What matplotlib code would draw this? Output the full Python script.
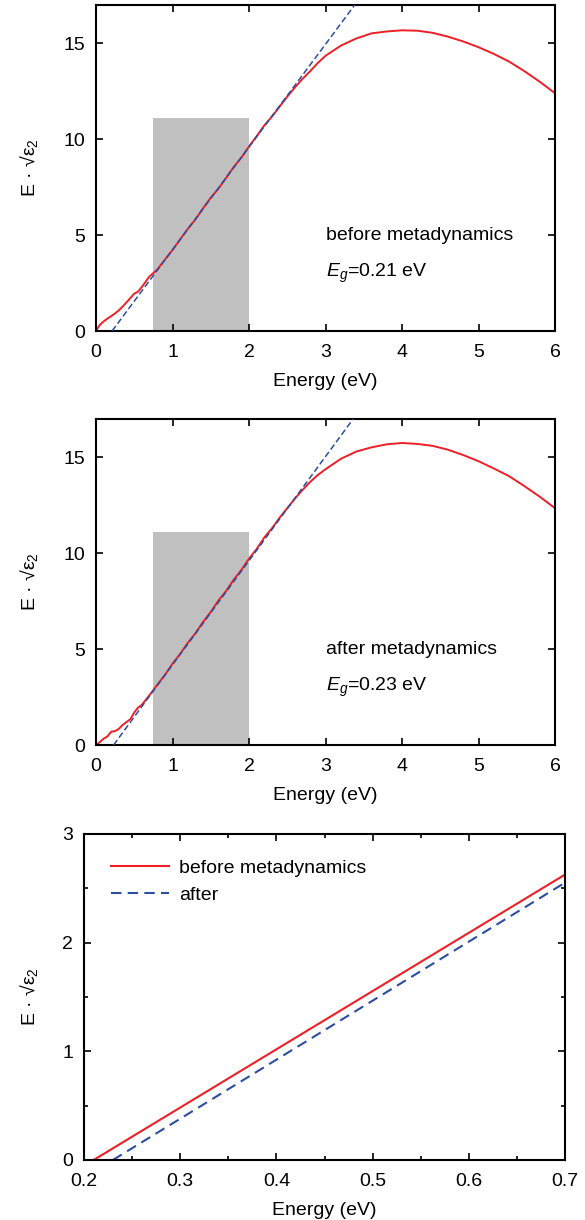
import numpy as np
import matplotlib
matplotlib.use("Agg")
import matplotlib.pyplot as plt
from matplotlib.ticker import MultipleLocator

plt.rcParams['font.family'] = ['Liberation Sans', 'DejaVu Sans']
plt.rcParams['mathtext.fontset'] = 'custom'
plt.rcParams['mathtext.rm'] = 'Liberation Sans'
plt.rcParams['mathtext.it'] = 'Liberation Sans:italic'

# spectra: E * sqrt(eps2) vs photon energy
energia = [0.0, 0.05, 0.1, 0.15, 0.2, 0.25, 0.3, 0.35, 0.4, 0.45, 0.5, 0.55, 0.6, 0.7,
           0.8, 0.9, 1.0, 1.1, 1.2, 1.3, 1.4, 1.5, 1.6, 1.7, 1.8, 1.9, 2.0, 2.1, 2.2,
           2.3, 2.4, 2.5, 2.6, 2.7, 2.8, 2.9, 3.0, 3.2, 3.4, 3.6, 3.8, 4.0, 4.2, 4.4,
           4.6, 4.8, 5.0, 5.2, 5.4, 5.6, 5.8, 6.0]
antes = [0.0, 0.32, 0.5, 0.65, 0.78, 0.92, 1.08, 1.28, 1.5, 1.72, 1.95, 2.05, 2.3, 2.85,
         3.2, 3.72, 4.22, 4.78, 5.33, 5.82, 6.40, 6.95, 7.42, 7.98, 8.55, 9.04, 9.62,
         10.16, 10.72, 11.18, 11.70, 12.22, 12.70, 13.15, 13.55, 13.98, 14.35, 14.88,
         15.25, 15.52, 15.62, 15.68, 15.66, 15.55, 15.35, 15.10, 14.80, 14.45, 14.05,
         13.55, 13.0, 12.4]
depois = [0.0, 0.15, 0.33, 0.45, 0.7, 0.72, 0.85, 1.05, 1.2, 1.35, 1.7, 1.95, 2.1, 2.6,
          3.14, 3.65, 4.24, 4.75, 5.33, 5.83, 6.42, 6.94, 7.53, 8.03, 8.62, 9.13, 9.72,
          10.22, 10.82, 11.30, 11.85, 12.35, 12.85, 13.3, 13.72, 14.08, 14.38, 14.92,
          15.3, 15.52, 15.68, 15.75, 15.70, 15.6, 15.40, 15.12, 14.80, 14.42, 14.02,
          13.5, 12.95, 12.35]

# linear fit (Tauc) parameters
gap_antes, incl_antes = 0.21, 5.36
gap_depois, incl_depois = 0.23, 5.43
janela_fit = (0.75, 2.0, 11.1)   # x0, x1, altura da faixa cinza

vermelho = '#ee1f26'
azul = '#2b4ea2'
ylab = 'E · √ε$_2$'
fs = 14

W, H = 585, 1220
fig = plt.figure(figsize=(W / 100, H / 100), dpi=100)


def estilo(ax):
    for s in ax.spines.values():
        s.set_linewidth(1.5)
    ax.tick_params(which='both', direction='in', top=True, right=True,
                   labelsize=fs, width=1.2)
    ax.tick_params(which='major', length=5)
    ax.tick_params(which='minor', length=3)
    ax.tick_params(axis='x', pad=9.5)
    ax.tick_params(axis='y', pad=8)
    ax.set_xlabel('Energy (eV)', fontsize=fs, labelpad=8.5)
    ax.set_ylabel(ylab, fontsize=fs)


def painel(rect, y, gap, incl, rotulo):
    ax = fig.add_axes(rect)
    x0, x1, h = janela_fit
    ax.bar(x0, h, width=x1 - x0, align='edge', color='#c0c0c0', zorder=1)
    ax.plot(energia, y, color=vermelho, lw=1.4, zorder=2)
    xt = np.array([gap, 3.6])
    ax.plot(xt, incl * (xt - gap), color=azul, lw=1.1, dashes=(4, 2), zorder=3)
    ax.text(3.0, 5.0, rotulo, fontsize=fs, va='center')
    ax.text(3.0, 3.0, r'$E_g$=%.2f eV' % gap, fontsize=fs, va='center')
    ax.set_xlim(0, 6)
    ax.set_ylim(0, 17)
    ax.set_xticks(range(0, 7))
    ax.set_yticks([0, 5, 10, 15])
    estilo(ax)
    ax.yaxis.set_label_coords(-0.122, 0.5)
    return ax


painel([96 / W, 1 - 331 / H, 459 / W, 326 / H], antes, gap_antes, incl_antes,
       'before metadynamics')
painel([96 / W, 1 - 745 / H, 459 / W, 326 / H], depois, gap_depois, incl_depois,
       'after metadynamics')

# zoom no limiar
ax3 = fig.add_axes([84 / W, 1 - 1160 / H, 481 / W, 326 / H])
xz = np.array([0.2, 0.7])
xa = np.clip(xz, gap_antes, None)
xd = np.clip(xz, gap_depois, None)
ax3.plot(xa, incl_antes * (xa - gap_antes), color=vermelho, lw=1.5,
         label='before metadynamics')
ax3.plot(xd, incl_depois * (xd - gap_depois), color=azul, lw=1.5,
         dashes=(5, 3), label='after')
ax3.set_xlim(0.2, 0.7)
ax3.set_ylim(0, 3)
ax3.set_xticks([0.2, 0.3, 0.4, 0.5, 0.6, 0.7])
ax3.set_yticks([0, 1, 2, 3])
ax3.xaxis.set_minor_locator(MultipleLocator(0.05))
ax3.yaxis.set_minor_locator(MultipleLocator(0.5))
estilo(ax3)
ax3.yaxis.set_label_coords(-0.0915, 0.5)
ax3.legend(loc='upper left', bbox_to_anchor=(0.02, 0.975), frameon=False,
           fontsize=fs, handlelength=3.0, handletextpad=0.5, labelspacing=0.45)

fig.savefig('out.png', dpi=100)
